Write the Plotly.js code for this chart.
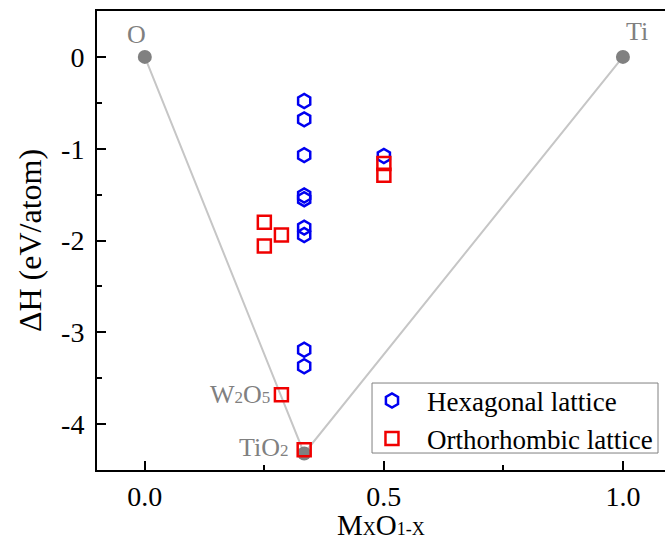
<!DOCTYPE html>
<html>
<head>
<meta charset="utf-8">
<script src="https://cdn.plot.ly/plotly-3.0.1.min.js"></script>
<style>
html,body{margin:0;padding:0;background:#fff;overflow:hidden;}
#chart{width:665px;height:546px;}
</style>
</head>
<body>
<div id="chart"></div>
<script>
// Convex hull (reference points)
const hullX = [0, 1/3, 1];
const hullY = [0, -4.32, 0];

// Hexagonal lattice structures
const hexX = [1/3, 1/3, 1/3, 1/3, 1/3, 1/3, 1/3, 1/3, 1/3, 0.5];
const hexY = [-0.48, -0.68, -1.07, -1.51, -1.55, -1.86, -1.94, -3.19, -3.37, -1.08];

// Orthorhombic lattice structures
const orthoX = [0.25, 2/7, 0.25, 2/7, 1/3, 0.5, 0.5];
const orthoY = [-1.80, -1.94, -2.06, -3.68, -4.28, -1.16, -1.29];

// Axis ticks
const yTickVals = [-4, -3, -2, -1, 0];
const yTickText = ['-4', '-3', '-2', '-1', '0'];
const xTickVals = [0, 0.5, 1];
const xTickText = ['0.0', '0.5', '1.0'];

const FONT = 'Liberation Serif';
const GRAY = '#808080';

const traces = [
  {
    x: hullX, y: hullY, mode: 'lines+markers', showlegend: false,
    line: {color: '#c6c6c6', width: 2},
    marker: {color: GRAY, size: 14, symbol: 'circle'},
    cliponaxis: false, hoverinfo: 'skip'
  },
  {
    x: hexX, y: hexY, mode: 'markers', name: 'Hexagonal lattice',
    marker: {symbol: 'hexagon-open', size: 14, color: '#0000f0', line: {width: 2.5, color: '#0000f0'}}
  },
  {
    x: orthoX, y: orthoY, mode: 'markers', name: 'Orthorhombic lattice',
    marker: {symbol: 'square-open', size: 13, color: '#f00000', line: {width: 2.5, color: '#f00000'}}
  }
];

const annFont = {family: FONT, size: 26, color: GRAY};
const sub = (t, s) => '<span style="font-size:' + s + 'px">' + t + '</span>';

const layout = {
  width: 665, height: 546,
  margin: {l: 97, r: 0, t: 11, b: 76},
  paper_bgcolor: '#fff', plot_bgcolor: '#fff',
  font: {family: FONT, size: 27, color: '#000'},
  showlegend: true,
  legend: {
    x: 0.4577, y: 0.109, xanchor: 'left', yanchor: 'middle',
    bgcolor: 'rgba(0,0,0,0)', borderwidth: 0,
    font: {family: FONT, size: 27, color: '#000'},
    itemwidth: 60, tracegroupgap: 0
  },
  shapes: [
    {type: 'rect', xref: 'paper', yref: 'paper', x0: 0.4842, x1: 0.9877, y0: 0.037, y1: 0.1895,
     line: {color: GRAY, width: 1}, fillcolor: '#fff', layer: 'below'}
  ],
  xaxis: {
    range: [-0.1, 1.088],
    tickvals: xTickVals, ticktext: xTickText,
    ticks: 'inside', ticklen: 9, tickwidth: 2, tickcolor: '#000',
    minor: {dtick: 0.25, ticks: 'inside', ticklen: 5, tickwidth: 2, tickcolor: '#000'},
    showline: true, linecolor: '#000', linewidth: 2, mirror: true,
    showgrid: false, zeroline: false,
    tickfont: {family: FONT, size: 28, color: '#000'},
    ticklabelstandoff: 0,
    title: {text: ''}
  },
  yaxis: {
    range: [-4.5, 0.5],
    tickvals: yTickVals, ticktext: yTickText,
    ticks: 'inside', ticklen: 9, tickwidth: 2, tickcolor: '#000',
    minor: {dtick: 0.5, ticks: 'inside', ticklen: 5, tickwidth: 2, tickcolor: '#000'},
    showline: true, linecolor: '#000', linewidth: 2, mirror: false,
    showgrid: false, zeroline: false,
    tickfont: {family: FONT, size: 28, color: '#000'},
    ticklabelstandoff: 5,
    title: {
      text: 'ΔH (eV/atom)',
      font: {family: FONT, size: 32, color: '#000'},
      standoff: 10
    }
  },
  annotations: [
    {x: 0.5, y: -0.1198, xref: 'paper', yref: 'paper', text: 'M' + sub('X', 18) + 'O' + sub('1-X', 18),
     showarrow: false, font: {family: FONT, size: 29, color: '#000'}, xanchor: 'center', yanchor: 'middle'},
    {x: 0, y: 0, xref: 'x', yref: 'y', text: 'O', showarrow: false, font: annFont,
     xanchor: 'center', yanchor: 'bottom', xshift: -8, yshift: 6},
    {x: 1, y: 0, xref: 'x', yref: 'y', text: 'Ti', showarrow: false, font: annFont,
     xanchor: 'center', yanchor: 'bottom', xshift: 14, yshift: 9},
    {x: 2/7, y: -3.68, xref: 'x', yref: 'y', text: 'W' + sub('2', 17) + 'O' + sub('5', 17), showarrow: false, font: annFont,
     xanchor: 'right', yanchor: 'middle', xshift: -9, yshift: 0},
    {x: 1/3, y: -4.28, xref: 'x', yref: 'y', text: 'TiO' + sub('2', 17), showarrow: false, font: annFont,
     xanchor: 'right', yanchor: 'middle', xshift: -14, yshift: 2}
  ]
};

Plotly.newPlot('chart', traces, layout, {staticPlot: true, displayModeBar: false});
</script>
</body>
</html>
